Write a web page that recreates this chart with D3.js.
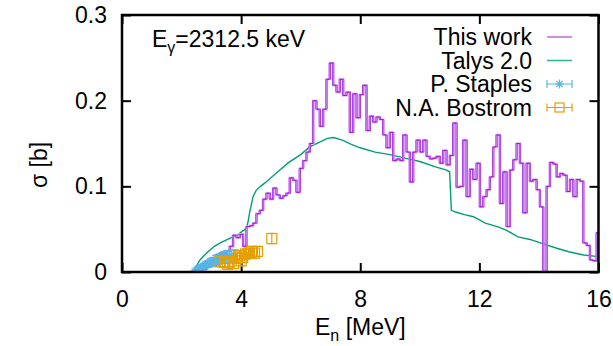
<!DOCTYPE html>
<html lang="en">
<head>
<meta charset="UTF-8">
<title>Cross section at E_gamma = 2312.5 keV</title>
<script src="https://d3js.org/d3.v7.min.js"></script>
<style>
  body { margin: 0; background: #fff; }
  svg { display: block; font-family: "Liberation Sans", Arial, Helvetica, sans-serif; }
</style>
</head>
<body>
<svg id="chart" width="613" height="346"></svg>
<script>
// "This work": step histogram, constant bin width starting at binStart (MeV), sigma in barn
const binStart = 2.61
const binWidth = 0.112
const thisWork = [
  0.001, 0.003, 0.006, 0.009, 0.012, 0.016, 0.022, 0.018, 0.025, 0.030,
  0.043, 0.040, 0.044, 0.030, 0.053, 0.054, 0.057, 0.068, 0.072, 0.085,
  0.092, 0.085, 0.098, 0.090, 0.086, 0.089, 0.092, 0.110, 0.107, 0.093,
  0.121, 0.130, 0.140, 0.150, 0.200, 0.190, 0.170, 0.190, 0.225, 0.244,
  0.218, 0.210, 0.225, 0.206, 0.210, 0.163, 0.208, 0.180, 0.207, 0.218,
  0.165, 0.182, 0.175, 0.181, 0.178, 0.160, 0.145, 0.163, 0.130, 0.132,
  0.130, 0.160, 0.140, 0.105, 0.140, 0.154, 0.140, 0.154, 0.135, 0.132,
  0.133, 0.135, 0.127, 0.142, 0.125, 0.136, 0.174, 0.099, 0.100, 0.154,
  0.088, 0.120, 0.108, 0.127, 0.076, 0.088, 0.096, 0.111, 0.146, 0.160,
  0.080, 0.117, 0.053, 0.119, 0.131, 0.150, 0.127, 0.069, 0.127, 0.106,
  0.108, 0.096, 0.076, 0.000, 0.100, 0.128, 0.126, 0.111, 0.115, 0.113,
  0.094, 0.108, 0.088, 0.108, 0.106, 0.034, 0.031, 0.014, 0.013, 0.046
]

// Talys 2.0 calculation
const talysE = [2.42, 2.5, 2.62, 2.75, 2.9, 3.1, 3.3, 3.6, 3.9, 4.18, 4.24, 4.3, 4.4, 4.5,
  4.65, 4.8, 5.0, 5.3, 5.6, 6.0, 6.3, 6.6, 6.9, 7.1, 7.4, 7.7, 8.0, 8.5, 9.0, 9.5, 10.0,
  10.5, 10.9, 11.0, 11.06, 11.2, 11.5, 11.8, 12.2, 12.6, 12.9, 13.3, 13.7, 14.1, 14.6,
  15.0, 15.5, 16.0]
const talysS = [0.0, 0.007, 0.014, 0.019, 0.024, 0.030, 0.034, 0.039, 0.044, 0.051, 0.060,
  0.072, 0.088, 0.095, 0.100, 0.104, 0.110, 0.119, 0.128, 0.137, 0.146, 0.151, 0.156, 0.157,
  0.154, 0.149, 0.145, 0.140, 0.137, 0.133, 0.129, 0.123, 0.119, 0.117, 0.072, 0.070, 0.067,
  0.0645, 0.057, 0.053, 0.049, 0.041, 0.038, 0.0335, 0.0277, 0.0237, 0.0198, 0.018]

// P. Staples
const staplesE = [2.44, 2.48, 2.52, 2.56, 2.60, 2.64, 2.68, 2.72, 2.76, 2.80, 2.84, 2.88,
  2.92, 2.96, 3.00, 3.04, 3.08, 3.12, 3.16, 3.20, 3.24, 3.28, 3.32, 3.36, 3.40, 3.45,
  3.50, 3.56, 3.62, 3.68, 3.75, 3.82]
const staplesS = [0.001, 0.002, 0.003, 0.004, 0.004, 0.005, 0.006, 0.007, 0.007, 0.008,
  0.009, 0.009, 0.010, 0.011, 0.011, 0.012, 0.012, 0.013, 0.014, 0.014, 0.015, 0.015,
  0.016, 0.016, 0.017, 0.017, 0.018, 0.017, 0.018, 0.019, 0.018, 0.019]
const staplesErr = [0.001, 0.001, 0.002, 0.002, 0.002, 0.003, 0.003, 0.003, 0.003, 0.004,
  0.004, 0.004, 0.004, 0.005, 0.005, 0.005, 0.005, 0.006, 0.006, 0.006, 0.006, 0.006,
  0.006, 0.006, 0.007, 0.007, 0.007, 0.007, 0.007, 0.007, 0.007, 0.007]

// N.A. Bostrom
const bostromE = [3.30, 3.45, 3.55, 3.62, 3.75, 3.85, 3.95, 4.00, 4.05, 4.15, 4.25, 4.35, 4.45, 4.55, 5.03]
const bostromS = [0.012, 0.011, 0.009, 0.012, 0.010, 0.016, 0.019, 0.013, 0.017, 0.021, 0.022, 0.024, 0.022, 0.024, 0.039]
const bostromErr = 0.006

const xTicks = [0, 4, 8, 12, 16]
const yTicks = [0, 0.1, 0.2, 0.3]
const yTickLabels = ["0", "0.1", "0.2", "0.3"]

const legendNames = ["This work", "Talys 2.0", "P. Staples", "N.A. Bostrom"]
const colors = ["#9400d3", "#009e73", "#56b4e9", "#e69f00"]

const plotL = 122, plotR = 598.5, plotT = 15, plotB = 272
const fontSize = 23

const svg = d3.select("#chart")
const x = d3.scaleLinear().domain([0, 16]).range([plotL, plotR])
const y = d3.scaleLinear().domain([0, 0.3]).range([plotB, plotT])

svg.append("defs").append("clipPath").attr("id", "plotClip")
  .append("rect").attr("x", plotL).attr("y", plotT - 2)
  .attr("width", plotR - plotL).attr("height", plotB - plotT + 2)

// axes: inward ticks, mirrored on top and right
const xAxis = d3.axisBottom(x).tickValues(xTicks).tickSizeInner(-9).tickSizeOuter(0).tickPadding(19)
const yAxis = d3.axisLeft(y).tickValues(yTicks).tickSizeInner(-9).tickSizeOuter(0).tickPadding(15)
  .tickFormat((d, i) => yTickLabels[i])

function styleAxis(g) {
  g.select(".domain").remove()
  g.attr("font-family", null).attr("font-size", fontSize)
  g.selectAll(".tick line").attr("stroke", "#000").attr("stroke-width", 2)
  g.selectAll(".tick text").attr("fill", "#000")
}

svg.append("g").attr("transform", `translate(0,${plotB})`).call(xAxis).call(styleAxis)
svg.append("g").attr("transform", `translate(${plotL},0)`).call(yAxis).call(styleAxis)
svg.append("g").attr("transform", `translate(0,${plotT})`)
  .call(d3.axisTop(x).tickValues(xTicks).tickSizeInner(-9).tickSizeOuter(0).tickFormat(""))
  .call(styleAxis)
svg.append("g").attr("transform", `translate(${plotR},0)`)
  .call(d3.axisRight(y).tickValues(yTicks).tickSizeInner(-9).tickSizeOuter(0).tickFormat(""))
  .call(styleAxis)

const plot = svg.append("g").attr("clip-path", "url(#plotClip)")

// Talys curve
plot.append("path")
  .datum(talysE.map((e, i) => [e, talysS[i]]))
  .attr("fill", "none").attr("stroke", colors[1]).attr("stroke-width", 1.4)
  .attr("d", d3.line().x(d => x(d[0])).y(d => y(d[1])))

// histogram outline: pale band with two thin dark strokes
const steps = []
thisWork.forEach((v, i) => {
  steps.push([binStart + i * binWidth, v])
  steps.push([binStart + (i + 1) * binWidth, v])
})
const stepLine = d3.line().x(d => x(d[0])).y(d => y(d[1]))
plot.append("path").datum(steps)
  .attr("fill", "none").attr("stroke", "#e2bff6").attr("stroke-width", 2.4)
  .attr("d", stepLine)
;[-0.7, 0.7].forEach(dx => {
  plot.append("path").datum(steps)
    .attr("transform", `translate(${dx},0)`)
    .attr("fill", "none").attr("stroke", colors[0]).attr("stroke-width", 0.8)
    .attr("stroke-opacity", 0.85)
    .attr("d", stepLine)
})

// Staples: asterisks with error bars
const star = "M-4.5,0H4.5M0,-4.5V4.5M-3.2,-3.2L3.2,3.2M-3.2,3.2L3.2,-3.2"
const st = plot.append("g").attr("stroke", colors[2]).attr("stroke-width", 1).attr("fill", "none")
staplesE.forEach((e, i) => {
  const cx = x(e), cy = y(staplesS[i])
  const y0 = y(staplesS[i] - staplesErr[i]), y1 = y(staplesS[i] + staplesErr[i])
  st.append("path").attr("d", `M${cx},${y0}V${y1}M${cx - 3},${y0}h6M${cx - 3},${y1}h6`)
  st.append("path").attr("transform", `translate(${cx},${cy})`).attr("d", star)
})

// Bostrom: open squares with error bars
const bo = plot.append("g").attr("stroke", colors[3]).attr("stroke-width", 1.2).attr("fill", "none")
bostromE.forEach((e, i) => {
  const cx = x(e), cy = y(bostromS[i])
  const y0 = y(bostromS[i] - bostromErr), y1 = y(bostromS[i] + bostromErr)
  bo.append("path").attr("d", `M${cx},${y0}V${y1}M${cx - 3.5},${y0}h7M${cx - 3.5},${y1}h7`)
  bo.append("rect").attr("x", cx - 5).attr("y", cy - 5).attr("width", 10).attr("height", 10)
})

// frame
svg.append("rect").attr("x", plotL).attr("y", plotT).attr("width", plotR - plotL).attr("height", plotB - plotT)
  .attr("fill", "none").attr("stroke", "#000").attr("stroke-width", 2.5)

// legend
const lg = svg.append("g").attr("font-size", fontSize)
legendNames.forEach((name, i) => {
  const ly = 37 + i * 23.5
  lg.append("text").attr("x", 532).attr("y", ly).attr("dy", "0.35em")
    .attr("text-anchor", "end").text(name)
  const g = lg.append("g").attr("stroke", colors[i]).attr("fill", "none")
  if (i < 2) {
    g.append("line").attr("x1", 547).attr("x2", 572).attr("y1", ly).attr("y2", ly)
      .attr("stroke-width", 1.5).attr("stroke-opacity", i === 0 ? 0.6 : 0.8)
  } else {
    g.attr("stroke-width", 1.2)
    g.append("path").attr("d", `M547,${ly}H572M547,${ly - 4}v8M572,${ly - 4}v8`)
    if (i === 2) g.append("path").attr("transform", `translate(559.5,${ly})`).attr("d", star)
    else g.append("rect").attr("x", 555).attr("y", ly - 4.5).attr("width", 9).attr("height", 9)
  }
})

// gamma energy label
const eg = svg.append("text").attr("x", 152).attr("y", 47).attr("font-size", fontSize)
eg.append("tspan").text("E")
eg.append("tspan").attr("font-size", 16).attr("dy", 6).text("γ")
eg.append("tspan").attr("dy", -6).text("=2312.5 keV")

// axis titles
svg.append("text").attr("transform", "translate(47,165) rotate(-90)")
  .attr("text-anchor", "middle").attr("font-size", fontSize).text("σ [b]")
const xl = svg.append("text").attr("x", 315).attr("y", 335).attr("font-size", fontSize)
xl.append("tspan").text("E")
xl.append("tspan").attr("font-size", 16).attr("dy", 6).text("n")
xl.append("tspan").attr("dy", -6).text(" [MeV]")
</script>
</body>
</html>
